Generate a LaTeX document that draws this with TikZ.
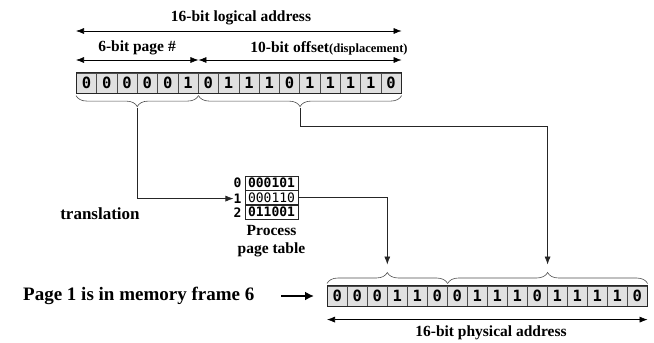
\documentclass[tikz,border=0pt]{standalone}
\usepackage{fontspec}
\setmainfont{Liberation Serif}
\newfontfamily\bitfont{DejaVu Sans Mono}
\usetikzlibrary{arrows.meta,decorations.pathreplacing,calc,positioning}
\begin{document}
\begin{tikzpicture}[x=1pt,y=1pt,
  lbl/.style={font=\bfseries\fontsize{15.5}{17}\selectfont, inner sep=0pt},
  biglbl/.style={font=\bfseries\fontsize{19}{21}\selectfont, inner sep=0pt},
  bitcell/.style={draw=black!70, fill=black!12, line width=0.6pt,
    minimum width=#1, minimum height=20.5pt, inner sep=0pt, anchor=north west,
    font=\bitfont\bfseries\fontsize{15.5}{16}\selectfont},
  frame/.style={draw=black!85, line width=0.8pt},
  dim/.style={line width=0.6pt, {Latex[length=8pt,width=6pt]}-{Latex[length=8pt,width=6pt]}},
  brc/.style={decorate, decoration={brace, amplitude=11pt, raise=2pt}, draw=black!70, line width=0.6pt},
  link/.style={draw=black!85, line width=0.6pt, -{Latex[length=8pt,width=6pt]}},
  entry/.style={draw=black!85, line width=0.6pt, minimum width=53pt, minimum height=14pt,
    inner sep=0pt, font=\bitfont\bfseries\fontsize{13}{14}\selectfont},
  idx/.style={inner sep=0pt, font=\bitfont\bfseries\fontsize{13}{14}\selectfont}]
\useasboundingbox (0,0) rectangle (654,-343);

% 16-bit logical address
\foreach \b [count=\i] in {0,0,0,0,0,1,0,1,1,1,0,1,1,1,1,0}
  \node[bitcell=20.3125pt] (l\i) at ({76+(\i-1)*20.3125},-72.5) {\b};
\draw[frame] (l1.north west) rectangle (l16.south east);

% dimension arrows and labels above
\draw[dim] ($(l1.north west)+(0,41.5)$) -- ($(l16.north east)+(0,41.5)$);
\draw[dim] ($(l1.north west)+(0,12.5)$) -- ($(l6.north east)+(0,12.5)$);
\draw[dim] ($(l6.north east)+(0,12.5)$) -- ($(l16.north east)+(0,12.5)$);
\node[lbl] (lalab) at (241,-18) {16-bit logical address};
\node[lbl] (pglab) at (137,-48) {6-bit page \#};
\node[lbl] (oflab) at (329,-48) {10-bit offset{\fontsize{12.5}{14}\selectfont(displacement)}};

% braces below the logical address
\draw[brc] (l6.south east) -- (l1.south west);
\draw[brc] (l16.south east) -- (l6.south east);
\coordinate (pgtip) at ($(l1.south west)!0.5!(l6.south east)+(0,-14)$);
\coordinate (oftip) at ($(l6.south east)!0.5!(l16.south east)+(0,-14)$);

% process page table
\node[entry] (t0) at (271.5,-183) {000101};
\node[entry, below=0pt of t0, font=\bitfont\fontsize{13}{14}\selectfont] (t1) {000110};
\node[entry, below=0pt of t1] (t2) {011001};
\node[idx, left=3pt of t0] (i0) {0};
\node[idx, left=3pt of t1, yshift=-1pt] (i1) {1};
\node[idx, left=3pt of t2] (i2) {2};
\node[lbl, align=center, font=\bfseries\fontsize{15.5}{17.5}\selectfont, below=6pt of t2] (ptlab) {Process\\page table};

\node[lbl, font=\bfseries\fontsize{17}{19}\selectfont] (trans) at (100,-214) {translation};

% 16-bit physical address
\foreach \b [count=\i] in {0,0,0,1,1,0,0,1,1,1,0,1,1,1,1,0}
  \node[bitcell=20pt] (p\i) at ({327+(\i-1)*20},-285.5) {\b};
\draw[frame] (p1.north west) rectangle (p16.south east);

% braces above the physical address
\draw[brc] (p1.north west) -- (p6.north east);
\draw[brc] (p6.north east) -- (p16.north east);
\coordinate (frtip) at ($(p1.north west)!0.5!(p6.north east)+(0,21)$);
\coordinate (ortip) at ($(p6.north east)!0.5!(p16.north east)+(0,21)$);

% translation connectors
\draw[link] (pgtip) |- (i1.west);
\draw[link] (t1.east) -| (frtip);
\draw[link] (oftip) -- ++(0,-19) -| (ortip);

% physical address size and frame note
\draw[dim] ($(p1.south west)+(0,-13)$) -- ($(p16.south east)+(0,-13)$);
\node[lbl] (palab) at (491,-333) {16-bit physical address};
\node[biglbl, anchor=west] (note) at (23,-296) {Page 1 is in memory frame 6};
\coordinate (notearr) at (281,-296);
\draw[line width=2pt, -{Latex[length=9pt,width=9pt]}, shorten >=13pt] (notearr) -- (notearr -| p1.west);
\end{tikzpicture}
\end{document}
